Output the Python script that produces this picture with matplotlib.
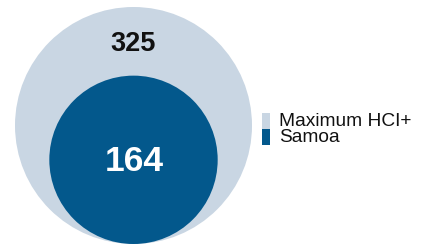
import matplotlib.pyplot as plt
from matplotlib.patches import Circle, Rectangle
import numpy as np

plt.rcParams["font.family"] = ["Liberation Sans", "DejaVu Sans"]

labels = ["Maximum HCI+", "Samoa"]
values = [325, 164]
colors = ["#c9d6e3", "#03588c"]
text_colors = ["#111111", "#ffffff"]

fig = plt.figure(figsize=(4.23, 2.47), dpi=100)
ax = fig.add_axes([0, 0, 1, 1])
ax.set_xlim(0, 423)
ax.set_ylim(247, 0)
ax.set_aspect("equal")
ax.axis("off")

# area-proportional nested circles sharing a bottom point
r_max = 118.5
cx, bottom = 133.5, 244
radii = [r_max * np.sqrt(v / max(values)) for v in values]

for i, (v, r) in enumerate(zip(values, radii)):
    cy = bottom - r
    ax.add_patch(Circle((cx, cy), r, facecolor=colors[i], edgecolor="none"))

# labels: outer one sits in the band above the inner circle
ax.text(cx, 44, str(values[0]), ha="center", va="center",
        fontsize=19.5, fontweight="bold", color=text_colors[0])
ax.text(cx + 0.5, bottom - radii[1] + 2, str(values[1]), ha="center", va="center",
        fontsize=25.5, fontweight="bold", color=text_colors[1])

# legend
for i, lab in enumerate(labels):
    y0 = 113 + i * 16
    ax.add_patch(Rectangle((262, y0), 8, 16, facecolor=colors[i], edgecolor="none"))
    ax.text(279, y0 + 8.5, lab, ha="left", va="center", fontsize=13.8, color="#111111")

fig.savefig("out.png", dpi=100)
